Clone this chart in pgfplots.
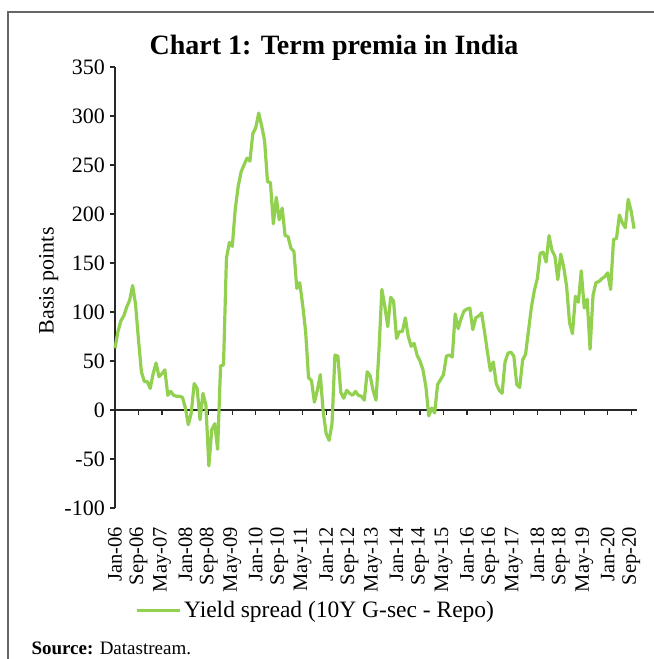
\documentclass[border=0pt]{standalone}
\usepackage{fontspec}
\setmainfont{Liberation Serif}
\usepackage{pgfplots}
\pgfplotsset{compat=1.18}
\definecolor{lgreen}{RGB}{146,208,80}
\definecolor{axgray}{RGB}{40,40,40}
\begin{document}
\begin{tikzpicture}
\useasboundingbox (0,0) rectangle (654bp,659bp);
\draw[line width=1.2bp, black!60] (8bp,0) -- (8bp,647bp) -- (654bp,647bp);
\node[anchor=base, font=\bfseries\fontsize{28bp}{32bp}\selectfont] at (334bp,604bp) {Chart 1: Term premia in India};
\node[anchor=base west, font=\fontsize{19bp}{21bp}\selectfont] at (28bp,5bp) {\textbf{Source:} Datastream.};
% zero line with ticks
\begin{axis}[at={(115bp,151bp)}, anchor=south west, scale only axis,
  width=522bp, height=441bp, xmin=0, xmax=178, ymin=-100, ymax=350,
  axis x line=middle, axis y line=none,
  xtick={0,8,...,176}, xticklabels={}, ytick=\empty,
  x axis line style={-, line width=1.2bp, color=axgray},
  major x tick style={line width=1.2bp, color=axgray, yshift=-2.5bp},
  major tick length=5bp, tick align=center]
\end{axis}
\begin{axis}[at={(115bp,151bp)}, anchor=south west, scale only axis,
  width=522bp, height=441bp, xmin=0, xmax=178, ymin=-100, ymax=350,
  axis y line*=left, axis x line*=bottom,
  x axis line style={draw=none},
  y axis line style={-, line width=1.2bp, color=axgray},
  ytick={-100,-50,0,50,100,150,200,250,300,350},
  xtick={0,8,...,176},
  xticklabels={Jan-06,Sep-06,May-07,Jan-08,Sep-08,May-09,Jan-10,Sep-10,May-11,Jan-12,Sep-12,May-13,Jan-14,Sep-14,May-15,Jan-16,Sep-16,May-17,Jan-18,Sep-18,May-19,Jan-20,Sep-20},
  major x tick style={draw=none},
  major y tick style={line width=1.2bp, color=axgray},
  major tick length=5bp, tick align=outside,
  yticklabel style={font=\fontsize{22bp}{26bp}\selectfont, inner xsep=5bp},
  /pgf/number format/assume math mode=true,
  xticklabel style={font=\fontsize{20.5bp}{24bp}\selectfont, rotate=90, anchor=east, inner xsep=14bp, inner ysep=0pt},
  ylabel={Basis points},
  every axis y label/.style={at={(axis description cs:-0.127,0.515)}, rotate=90, anchor=center, font=\fontsize{22bp}{26bp}\selectfont},
  legend style={at={(axis description cs:0.385,-0.232)}, anchor=center, draw=none, fill=none,
    font=\fontsize{23.5bp}{26bp}\selectfont, inner sep=0pt},
  legend image code/.code={\draw[#1] (0bp,0bp) -- (43bp,0bp);},
  clip=false]
\addplot[color=lgreen, line width=3.2bp, line join=round] coordinates {
(0,63) (1,80) (2,91) (3,96) (4,105) (5,112) (6,127) (7,108) (8,72) (9,39)
(10,29) (11,29) (12,22) (13,37) (14,48) (15,34) (16,37) (17,41) (18,15) (19,19)
(20,15) (21,14) (22,14) (23,13) (24,2) (25,-15) (26,-3) (27,27) (28,22) (29,-10)
(30,17) (31,5) (32,-57) (33,-20) (34,-14) (35,-40) (36,45) (37,46) (38,155) (39,171)
(40,167) (41,205) (42,228) (43,243) (44,250) (45,257) (46,254) (47,282) (48,288) (49,303)
(50,290) (51,275) (52,233) (53,232) (54,190) (55,217) (56,194) (57,206) (58,178) (59,177)
(60,165) (61,162) (62,124) (63,130) (64,107) (65,80) (66,33) (67,30) (68,8) (69,20)
(70,36) (71,-2) (72,-24) (73,-31) (74,-14) (75,56) (76,55) (77,18) (78,12) (79,20)
(80,17) (81,15) (82,19) (83,15) (84,14) (85,10) (86,39) (87,35) (88,20) (89,10)
(90,60) (91,123) (92,106) (93,85) (94,115) (95,111) (96,73) (97,80) (98,80) (99,94)
(100,75) (101,65) (102,68) (103,56) (104,50) (105,41) (106,24) (107,-6) (108,2) (109,-3)
(110,26) (111,31) (112,36) (113,55) (114,56) (115,54) (116,98) (117,83) (118,93) (119,101)
(120,103) (121,104) (122,82) (123,94) (124,96) (125,99) (126,80) (127,59) (128,40) (129,49)
(130,27) (131,20) (132,17) (133,49) (134,58) (135,59) (136,55) (137,26) (138,23) (139,51)
(140,57) (141,81) (142,105) (143,122) (144,134) (145,160) (146,161) (147,151) (148,178) (149,163)
(150,157) (151,133) (152,159) (153,146) (154,126) (155,89) (156,78) (157,116) (158,110) (159,142)
(160,104) (161,113) (162,62) (163,117) (164,130) (165,131) (166,134) (167,136) (168,140) (169,123)
(170,174) (171,175) (172,199) (173,191) (174,186) (175,215) (176,203) (177,185)
};
\addlegendentry{Yield spread (10Y G-sec - Repo)}
\end{axis}
\end{tikzpicture}
\end{document}
